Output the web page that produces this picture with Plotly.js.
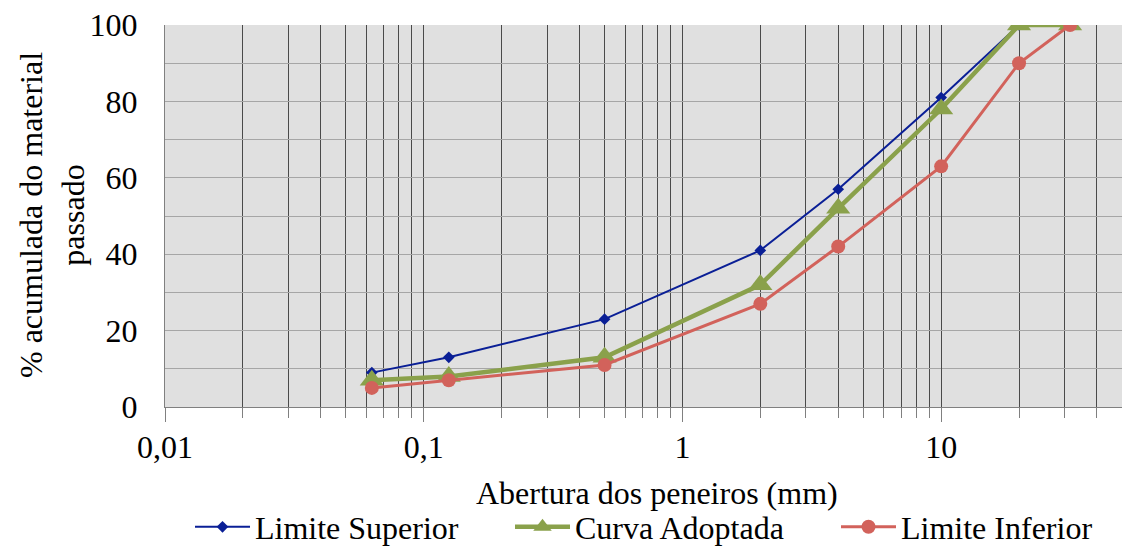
<!DOCTYPE html>
<html>
<head>
<meta charset="utf-8">
<script src="https://cdn.plot.ly/plotly-3.0.1.min.js"></script>
<style>html,body{margin:0;padding:0;background:#fff;}#chart{width:1130px;height:547px;}</style>
</head>
<body>
<div id="chart"></div>
<script>
const sieveSizes = [0.063, 0.125, 0.5, 2, 4, 10, 20, 31.5];
const limiteSuperior = [9, 13, 23, 41, 57, 81, 100, 100];
const curvaAdoptada = [7, 8, 13, 32, 52, 78, 100, 100];
const limiteInferior = [5, 7, 11, 27, 42, 63, 90, 100];
const seriesNames = ["Limite Superior", "Curva Adoptada", "Limite Inferior"];
const xTickVals = [0.01, 0.1, 1, 10];
const xTickText = ["0,01", "0,1", "1", "10"];
const xMinorVals = [0.02,0.03,0.04,0.05,0.06,0.07,0.08,0.09,0.2,0.3,0.4,0.5,0.6,0.7,0.8,0.9,2,3,4,5,6,7,8,9,20,30,40];
const xTitle = "Abertura dos peneiros (mm)";
const yTitle = "% acumulada do material<br>passado";

const font = "Times New Roman, Liberation Serif, DejaVu Serif, serif";
const fs = 32;

const traces = [
  {x: sieveSizes, y: limiteSuperior, name: seriesNames[0], mode: "lines+markers", legend: "legend",
   line: {color: "#0a1f96", width: 2}, marker: {symbol: "diamond", size: 9, color: "#0a1f96"}},
  {x: sieveSizes, y: curvaAdoptada, name: seriesNames[1], mode: "lines+markers", legend: "legend2",
   line: {color: "#8aa14b", width: 4.5}, marker: {symbol: "triangle-up", size: 21, color: "#8aa14b"}},
  {x: sieveSizes, y: limiteInferior, name: seriesNames[2], mode: "lines+markers", legend: "legend3",
   line: {color: "#d2625b", width: 3}, marker: {symbol: "circle", size: 14, color: "#d2625b"}}
];

function legendAt(px) {
  return {orientation: "h", x: px / 1130, xanchor: "left", xref: "container",
          y: 1 - 527 / 547, yanchor: "middle", yref: "container",
          font: {family: font, size: fs, color: "#000"},
          itemwidth: 55, bgcolor: "rgba(0,0,0,0)", borderwidth: 0};
}

const layout = {
  width: 1130, height: 547,
  margin: {l: 165, r: 8, t: 25, b: 140, autoexpand: false},
  paper_bgcolor: "#ffffff",
  plot_bgcolor: "#e0e0e0",
  font: {family: font, size: fs, color: "#000"},
  showlegend: true,
  legend: legendAt(190),
  legend2: legendAt(510),
  legend3: legendAt(836),
  xaxis: {
    type: "log", range: [-2, Math.log10(50)],
    tickmode: "array", tickvals: xTickVals, ticktext: xTickText,
    ticks: "outside", ticklen: 14, tickcolor: "#808080", tickwidth: 1,
    showgrid: true, gridcolor: "#4a4a4a", gridwidth: 1,
    minor: {tickmode: "array", tickvals: xMinorVals, ticks: "outside", ticklen: 10,
            tickcolor: "#808080", showgrid: true, gridcolor: "#4a4a4a", gridwidth: 1},
    showline: true, linecolor: "#808080", linewidth: 1,
    zeroline: false, ticklabelstandoff: -2,
    tickfont: {family: font, size: fs, color: "#000"}
  },
  yaxis: {
    range: [0, 100], tickmode: "array", tickvals: [0, 20, 40, 60, 80, 100],
    ticks: "", showgrid: true, gridcolor: "#a6a6a6", gridwidth: 1,
    minor: {tickmode: "array", tickvals: [10, 30, 50, 70, 90], showgrid: true, gridcolor: "#a6a6a6", gridwidth: 1},
    showline: true, linecolor: "#808080", linewidth: 1, zeroline: false,
    ticklabelstandoff: 20,
    tickfont: {family: font, size: fs, color: "#000"}
  },
  annotations: [
    {text: xTitle, xref: "paper", yref: "paper", x: (657 - 165) / 957, y: (407 - 493) / 382,
     xanchor: "center", yanchor: "middle", showarrow: false,
     font: {family: font, size: fs, color: "#000"}},
    {text: yTitle, xref: "paper", yref: "paper", x: (52 - 165) / 957, y: (407 - 215) / 382,
     xanchor: "center", yanchor: "middle", showarrow: false, textangle: -90,
     font: {family: font, size: fs, color: "#000"}}
  ]
};

Plotly.newPlot("chart", traces, layout, {displayModeBar: false, staticPlot: true});
</script>
</body>
</html>
